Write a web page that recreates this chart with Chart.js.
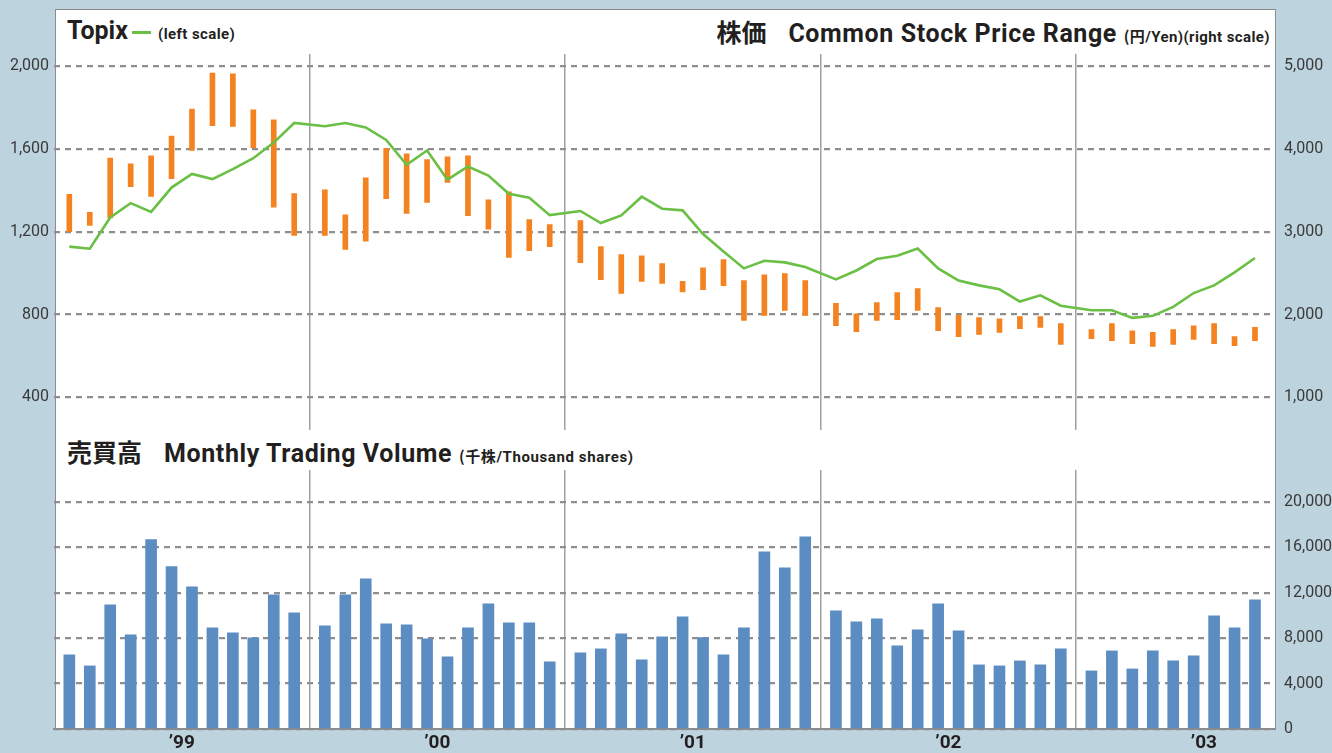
<!DOCTYPE html>
<html><head><meta charset="utf-8">
<script src="https://cdn.jsdelivr.net/npm/chart.js@4.4.1/dist/chart.umd.min.js"></script>
<style>
html,body{margin:0;padding:0;}
body{width:1332px;height:753px;background:#bdd3de;position:relative;overflow:hidden;font-family:Roboto,"Noto Sans CJK JP",sans-serif;}
#box{position:absolute;left:55px;top:9px;width:1221px;height:721px;box-sizing:border-box;background:#fff;border:1.5px solid #8c8c8c;border-bottom:0;}
canvas{position:absolute;left:0;}
#c1{top:0;}
#c2{top:440px;}
.t{position:absolute;font-weight:700;color:#231f20;white-space:nowrap;line-height:1;}
.big{font-size:25px;}
.sm{font-size:15px;letter-spacing:0.4px;}
.cjk{font-family:"Noto Sans CJK JP",sans-serif;}
#leg{position:absolute;left:132px;top:31px;width:19px;height:3px;background:#6abf45;}
</style></head>
<body>
<div id="box"></div>
<div class="t big" style="left:67px;top:18px;">Topix</div>
<div id="leg"></div>
<div class="t sm" style="left:158px;top:27px;">(left scale)</div>
<div class="t big" style="right:62px;top:19px;letter-spacing:0.6px;"><span class="cjk" style="letter-spacing:0;">株価</span><span style="display:inline-block;width:22px;"></span>Common Stock Price Range <span class="sm"><span class="cjk">(円</span>/Yen)(right scale)</span></div>
<div class="t big" style="left:67px;top:439px;letter-spacing:0.6px;"><span class="cjk" style="letter-spacing:0;">売買高</span><span style="display:inline-block;width:22px;"></span>Monthly Trading Volume <span class="sm" style="letter-spacing:0.6px;"><span class="cjk">(千株</span>/Thousand shares)</span></div>
<canvas id="c1" width="1332" height="450"></canvas>
<canvas id="c2" width="1332" height="313"></canvas>
<script>
// ---- data (57 months, fiscal years '99 - '03) ----
const yearLabels = ['\u201999', '\u201900', '\u201901', '\u201902', '\u201903'];
const monthsPerYear = 12;

// Topix (left scale)
const topix = [
  1128,1118,1269,1338,1296,1413,1479,1454,1502,1555,1630,1725,
  1709,1725,1703,1643,1523,1592,1451,1515,1471,1383,1364,1280,
  1300,1242,1279,1369,1311,1303,1189,1105,1023,1060,1052,1030,
  970,1013,1068,1084,1119,1023,964,941,922,863,893,843,
  821,821,784,794,837,904,941,1004,1073
];
// Common stock price range (yen, right scale)
const priceHigh = [
  3450,3235,3890,3820,3915,4155,4480,4915,4905,4470,4350,3460,
  3505,3205,3650,4005,3940,3870,3905,3915,3385,3480,3145,3085,
  3135,2820,2725,2710,2615,2400,2565,2665,2410,2480,2495,2410,
  2135,2010,2145,2265,2315,2085,1990,1965,1950,1975,1975,1890,
  1820,1890,1805,1785,1820,1865,1890,1735,1845
];
const priceLow = [
  3000,3075,3165,3545,3425,3640,3980,4280,4270,4015,3295,2955,
  2955,2785,2885,3400,3220,3355,3595,3195,3030,2690,2770,2820,
  2625,2420,2255,2400,2375,2275,2300,2350,1930,1990,2050,1990,
  1865,1795,1930,1940,2050,1805,1735,1760,1785,1830,1845,1640,
  1710,1685,1650,1615,1640,1700,1650,1625,1685
];
// Monthly trading volume (thousand shares)
const volume = [
  6530,5560,10940,8290,16680,14300,12530,8910,8470,8030,11820,10240,
  9090,11820,13240,9270,9180,7940,6350,8910,11030,9350,9350,5910,
  6710,7060,8380,6090,8120,9880,8060,6530,8910,15620,14210,16940,
  10410,9440,9710,7320,8740,11030,8650,5650,5560,6000,5650,7060,
  5120,6880,5290,6880,6000,6440,9970,8910,11380
];
const leftTicks = [400, 800, 1200, 1600, 2000];
const rightTicks = [1000, 2000, 3000, 4000, 5000];
const volTicks = [0, 4000, 8000, 12000, 16000, 20000];

// ---- layout / style ----
const YEAR_SPAN = 12.5, FIRST = 0.75, X_MAX = 59.68;
const xOf = i => Math.floor(i / monthsPerYear) * YEAR_SPAN + (i % monthsPerYear) + FIRST;
const GREEN = '#6abf45', ORANGE = '#f58220', BLUE = '#5b8dc2';
const GRID = '#8e8e8e', SEP = '#a0a0a0', TXT = '#3a3a3a';
const tickFont = {family: 'Roboto', size: 16};
const fmt = v => Number(v).toLocaleString('en-US');
const setTicks = arr => s => { s.ticks = arr.map(v => ({value: v})); };
const sepTicks = setTicks([1, 2, 3, 4].map(k => k * YEAR_SPAN));

new Chart(document.getElementById('c1'), {
  type: 'bar',
  data: {
    datasets: [
      {type: 'line', label: 'Topix', data: topix.map((v, i) => ({x: xOf(i), y: v})),
       xAxisID: 'x', yAxisID: 'yL', borderColor: GREEN, borderWidth: 2.6,
       pointRadius: 0, tension: 0, order: 0},
      {type: 'bar', label: 'Price range',
       data: priceLow.map((lo, i) => ({x: xOf(i), y: [lo, priceHigh[i]]})),
       xAxisID: 'x', yAxisID: 'yR', backgroundColor: ORANGE, barThickness: 5, order: 1}
    ]
  },
  options: {
    responsive: false, animation: false,
    layout: {padding: {top: 54, bottom: 19, left: 0, right: 0}},
    plugins: {legend: {display: false}, tooltip: {enabled: false}},
    scales: {
      x: {type: 'linear', offset: false, min: 0, max: X_MAX, afterBuildTicks: sepTicks,
          afterFit: s => { s.height = 0; },
          ticks: {display: false},
          grid: {offset: false, color: SEP, lineWidth: 1.5, drawTicks: false},
          border: {display: false}},
      yL: {position: 'left', min: 241, max: 2057.8, afterBuildTicks: setTicks(leftTicks),
           afterFit: s => { s.width = 54; },
           ticks: {font: tickFont, color: TXT, padding: 5, callback: fmt},
           grid: {color: GRID, lineWidth: 2.2, drawTicks: false},
           border: {display: false, dash: [6, 5]}},
      yR: {position: 'right', min: 602.5, max: 5144.5, afterBuildTicks: setTicks(rightTicks),
           afterFit: s => { s.width = 58; },
           ticks: {font: tickFont, color: TXT, padding: 10, callback: fmt},
           grid: {display: false, drawTicks: false},
           border: {display: false}}
    }
  }
});

new Chart(document.getElementById('c2'), {
  type: 'bar',
  data: {
    datasets: [
      {label: 'Volume', data: volume.map((v, i) => ({x: xOf(i), y: v})),
       xAxisID: 'x', yAxisID: 'y', backgroundColor: BLUE, barThickness: 11}
    ]
  },
  options: {
    responsive: false, animation: false,
    layout: {padding: {top: 30, bottom: 0, left: 54, right: 0}},
    plugins: {legend: {display: false}, tooltip: {enabled: false}},
    scales: {
      x: {type: 'linear', offset: false, min: 0, max: X_MAX,
          afterBuildTicks: setTicks(yearLabels.map((_, k) => k * YEAR_SPAN + YEAR_SPAN / 2)),
          afterFit: s => { s.height = 24; },
          ticks: {font: {family: 'Roboto', size: 19, weight: 'bold'}, color: '#231f20',
                  padding: 3, autoSkip: false, maxRotation: 0,
                  callback: (v, idx) => yearLabels[idx]},
          grid: {display: false, offset: false, drawTicks: false},
          border: {display: true, color: '#8c8c8c', width: 2}},
      xg: {type: 'linear', offset: false, position: 'bottom', min: 0, max: X_MAX, afterBuildTicks: sepTicks,
           afterFit: s => { s.height = 0; },
           ticks: {display: false},
           grid: {offset: false, color: SEP, lineWidth: 1.5, drawTicks: false},
           border: {display: false}},
      y: {position: 'right', min: 0, max: 22819, afterBuildTicks: setTicks(volTicks),
          afterFit: s => { s.width = 58; },
          ticks: {font: tickFont, color: TXT, padding: 10, callback: fmt},
          grid: {color: GRID, lineWidth: 2.2, drawTicks: false},
          border: {display: false, dash: [6, 5]}}
    }
  }
});
</script>
</body></html>
